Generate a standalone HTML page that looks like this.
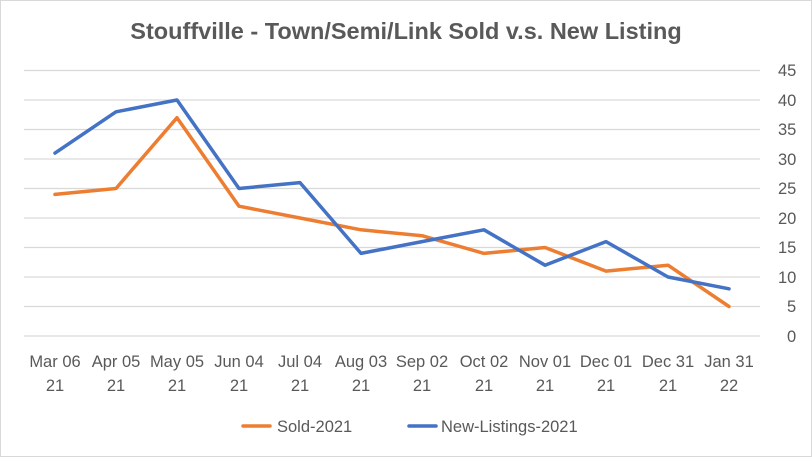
<!DOCTYPE html>
<html><head><style>
body{margin:0;background:#fff}
svg{display:block}
text{font-family:"Liberation Sans",sans-serif;fill:#595959}
</style></head><body>
<svg width="812" height="457" xmlns="http://www.w3.org/2000/svg">
<rect x="0.5" y="0.5" width="811" height="456" fill="#fff" stroke="#d9d9d9"/>
<text x="406" y="39" text-anchor="middle" font-size="23.5" font-weight="bold">Stouffville - Town/Semi/Link Sold v.s. New Listing</text>
<g stroke="#d9d9d9" stroke-width="1.3">
<line x1="24" x2="760" y1="70.5" y2="70.5"/><line x1="24" x2="760" y1="100" y2="100"/>
<line x1="24" x2="760" y1="129.5" y2="129.5"/><line x1="24" x2="760" y1="159" y2="159"/>
<line x1="24" x2="760" y1="188.5" y2="188.5"/><line x1="24" x2="760" y1="218" y2="218"/>
<line x1="24" x2="760" y1="247.5" y2="247.5"/><line x1="24" x2="760" y1="277" y2="277"/>
<line x1="24" x2="760" y1="306.5" y2="306.5"/><line x1="24" x2="760" y1="336" y2="336"/>
</g>
<g font-size="16.5" text-anchor="start">
<text x="778" y="76">45</text><text x="778" y="106">40</text><text x="778" y="135">35</text>
<text x="778" y="165">30</text><text x="778" y="194">25</text><text x="778" y="224">20</text>
<text x="778" y="253">15</text><text x="778" y="283">10</text><text x="787" y="312">5</text>
<text x="787" y="342">0</text>
</g>
<g font-size="16.5" text-anchor="middle">
<text x="55" y="367">Mar 06</text><text x="55" y="391">21</text>
<text x="116" y="367">Apr 05</text><text x="116" y="391">21</text>
<text x="177" y="367">May 05</text><text x="177" y="391">21</text>
<text x="239" y="367">Jun 04</text><text x="239" y="391">21</text>
<text x="300" y="367">Jul 04</text><text x="300" y="391">21</text>
<text x="361" y="367">Aug 03</text><text x="361" y="391">21</text>
<text x="422" y="367">Sep 02</text><text x="422" y="391">21</text>
<text x="484" y="367">Oct 02</text><text x="484" y="391">21</text>
<text x="545" y="367">Nov 01</text><text x="545" y="391">21</text>
<text x="606" y="367">Dec 01</text><text x="606" y="391">21</text>
<text x="668" y="367">Dec 31</text><text x="668" y="391">21</text>
<text x="729" y="367">Jan 31</text><text x="729" y="391">22</text>
</g>
<polyline fill="none" stroke="#ed7d31" stroke-width="3.5" stroke-linejoin="round" stroke-linecap="round"
points="55,194.4 116,188.5 177,117.7 239,206.2 300,218 361,229.8 422,235.7 484,253.4 545,247.5 606,271.1 668,265.2 729,306.5"/>
<polyline fill="none" stroke="#4472c4" stroke-width="3.5" stroke-linejoin="round" stroke-linecap="round"
points="55,153.1 116,111.8 177,100 239,188.5 300,182.6 361,253.4 422,241.6 484,229.8 545,265.2 606,241.6 668,277 729,288.8"/>
<line x1="243" x2="270" y1="426" y2="426" stroke="#ed7d31" stroke-width="3.5" stroke-linecap="round"/>
<text x="277" y="432" font-size="16.5">Sold-2021</text>
<line x1="409" x2="436" y1="426" y2="426" stroke="#4472c4" stroke-width="3.5" stroke-linecap="round"/>
<text x="441" y="432" font-size="16.5">New-Listings-2021</text>
</svg>
</body></html>
